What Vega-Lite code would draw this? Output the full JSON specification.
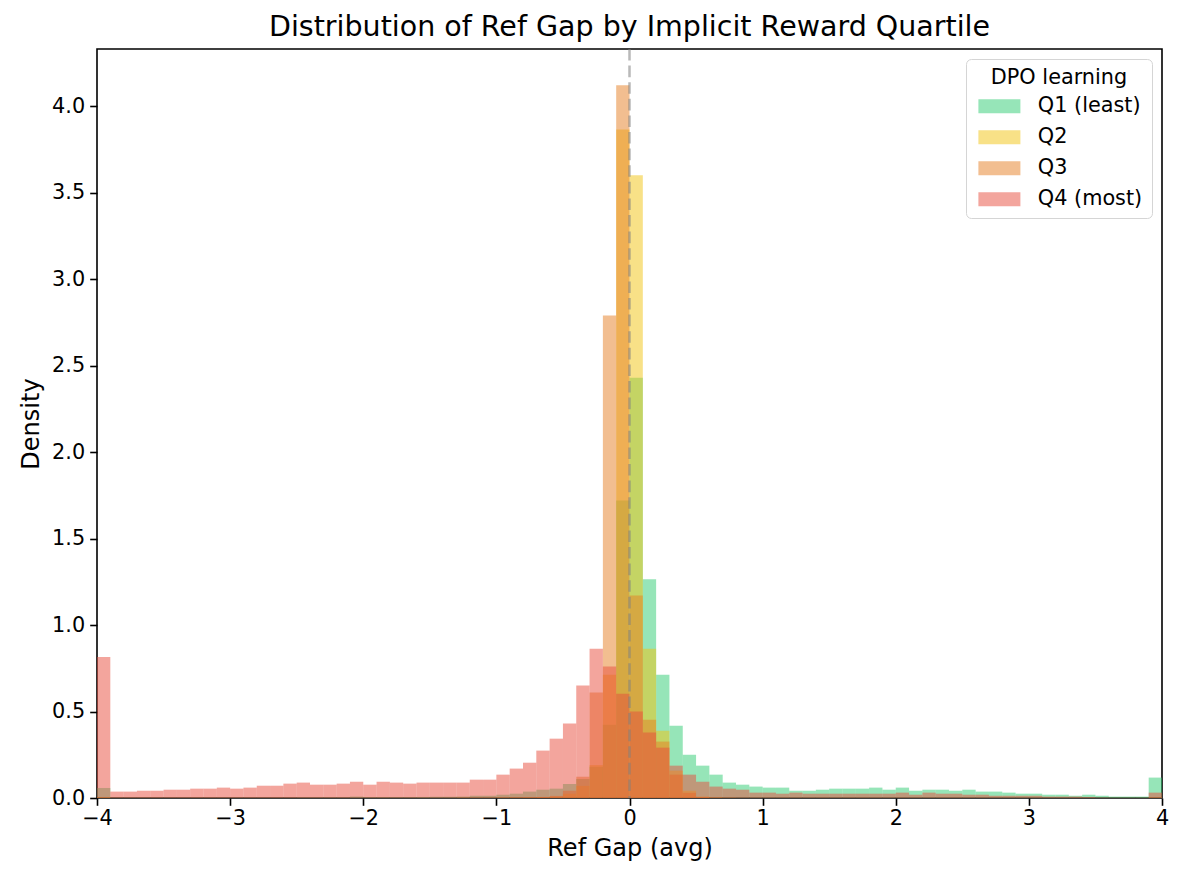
{
  "$schema": "https://vega.github.io/schema/vega-lite/v6.json",
  "autosize": "none",
  "width": 1065,
  "height": 749,
  "padding": {"left": 97, "top": 49, "right": 22, "bottom": 84},
  "background": "white",
  "title": {
    "text": "Distribution of Ref Gap by Implicit Reward Quartile",
    "font": "DejaVu Sans",
    "fontSize": 28.5,
    "fontWeight": "normal",
    "color": "black",
    "anchor": "middle",
    "offset": 6
  },
  "config": {
    "view": {"stroke": "black", "strokeWidth": 1.6},
    "axis": {
      "domain": false,
      "grid": false,
      "labelFlush": false,
      "labelFont": "DejaVu Sans",
      "labelFontSize": 20.8,
      "labelColor": "black",
      "tickColor": "black",
      "tickSize": 7.3,
      "tickWidth": 1.6,
      "labelPadding": 5,
      "titleFont": "DejaVu Sans",
      "titleFontSize": 24,
      "titleFontWeight": "normal",
      "titleColor": "black",
      "titlePadding": 8
    }
  },
  "layer": [
    {
      "data": {
        "values": [
          {"b0": -4.0, "b1": -3.9, "Q1": 0.058, "Q2": 0.004, "Q3": 0.003, "Q4": 0.815},
          {"b0": -3.9, "b1": -3.8, "Q1": 0.003, "Q2": 0, "Q3": 0, "Q4": 0.037},
          {"b0": -3.8, "b1": -3.7, "Q1": 0.003, "Q2": 0, "Q3": 0, "Q4": 0.037},
          {"b0": -3.7, "b1": -3.6, "Q1": 0.003, "Q2": 0, "Q3": 0, "Q4": 0.042},
          {"b0": -3.6, "b1": -3.5, "Q1": 0.003, "Q2": 0, "Q3": 0, "Q4": 0.042},
          {"b0": -3.5, "b1": -3.4, "Q1": 0.003, "Q2": 0, "Q3": 0, "Q4": 0.048},
          {"b0": -3.4, "b1": -3.3, "Q1": 0.003, "Q2": 0, "Q3": 0, "Q4": 0.048},
          {"b0": -3.3, "b1": -3.2, "Q1": 0.003, "Q2": 0, "Q3": 0, "Q4": 0.054},
          {"b0": -3.2, "b1": -3.1, "Q1": 0.003, "Q2": 0, "Q3": 0, "Q4": 0.054},
          {"b0": -3.1, "b1": -3.0, "Q1": 0.003, "Q2": 0, "Q3": 0, "Q4": 0.060},
          {"b0": -3.0, "b1": -2.9, "Q1": 0.003, "Q2": 0, "Q3": 0, "Q4": 0.054},
          {"b0": -2.9, "b1": -2.8, "Q1": 0.003, "Q2": 0, "Q3": 0, "Q4": 0.060},
          {"b0": -2.8, "b1": -2.7, "Q1": 0.003, "Q2": 0, "Q3": 0, "Q4": 0.071},
          {"b0": -2.7, "b1": -2.6, "Q1": 0.003, "Q2": 0, "Q3": 0, "Q4": 0.071},
          {"b0": -2.6, "b1": -2.5, "Q1": 0.003, "Q2": 0, "Q3": 0, "Q4": 0.083},
          {"b0": -2.5, "b1": -2.4, "Q1": 0.004, "Q2": 0, "Q3": 0, "Q4": 0.089},
          {"b0": -2.4, "b1": -2.3, "Q1": 0.004, "Q2": 0, "Q3": 0, "Q4": 0.077},
          {"b0": -2.3, "b1": -2.2, "Q1": 0.004, "Q2": 0, "Q3": 0, "Q4": 0.077},
          {"b0": -2.2, "b1": -2.1, "Q1": 0.004, "Q2": 0, "Q3": 0, "Q4": 0.083},
          {"b0": -2.1, "b1": -2.0, "Q1": 0.008, "Q2": 0, "Q3": 0, "Q4": 0.094},
          {"b0": -2.0, "b1": -1.9, "Q1": 0.005, "Q2": 0, "Q3": 0, "Q4": 0.077},
          {"b0": -1.9, "b1": -1.8, "Q1": 0.005, "Q2": 0, "Q3": 0, "Q4": 0.094},
          {"b0": -1.8, "b1": -1.7, "Q1": 0.005, "Q2": 0, "Q3": 0, "Q4": 0.089},
          {"b0": -1.7, "b1": -1.6, "Q1": 0.005, "Q2": 0, "Q3": 0, "Q4": 0.083},
          {"b0": -1.6, "b1": -1.5, "Q1": 0.006, "Q2": 0, "Q3": 0, "Q4": 0.089},
          {"b0": -1.5, "b1": -1.4, "Q1": 0.007, "Q2": 0, "Q3": 0, "Q4": 0.089},
          {"b0": -1.4, "b1": -1.3, "Q1": 0.007, "Q2": 0, "Q3": 0, "Q4": 0.089},
          {"b0": -1.3, "b1": -1.2, "Q1": 0.008, "Q2": 0.001, "Q3": 0.001, "Q4": 0.089},
          {"b0": -1.2, "b1": -1.1, "Q1": 0.013, "Q2": 0.001, "Q3": 0.001, "Q4": 0.106},
          {"b0": -1.1, "b1": -1.0, "Q1": 0.013, "Q2": 0.001, "Q3": 0.001, "Q4": 0.106},
          {"b0": -1.0, "b1": -0.9, "Q1": 0.019, "Q2": 0.002, "Q3": 0.002, "Q4": 0.135},
          {"b0": -0.9, "b1": -0.8, "Q1": 0.025, "Q2": 0.002, "Q3": 0.003, "Q4": 0.170},
          {"b0": -0.8, "b1": -0.7, "Q1": 0.037, "Q2": 0.003, "Q3": 0.004, "Q4": 0.204},
          {"b0": -0.7, "b1": -0.6, "Q1": 0.048, "Q2": 0.004, "Q3": 0.006, "Q4": 0.274},
          {"b0": -0.6, "b1": -0.5, "Q1": 0.054, "Q2": 0.008, "Q3": 0.012, "Q4": 0.343},
          {"b0": -0.5, "b1": -0.4, "Q1": 0.081, "Q2": 0.025, "Q3": 0.042, "Q4": 0.43},
          {"b0": -0.4, "b1": -0.3, "Q1": 0.11, "Q2": 0.07, "Q3": 0.123, "Q4": 0.65},
          {"b0": -0.3, "b1": -0.2, "Q1": 0.18, "Q2": 0.19, "Q3": 0.61, "Q4": 0.863},
          {"b0": -0.2, "b1": -0.1, "Q1": 0.424, "Q2": 0.713, "Q3": 2.79, "Q4": 0.76},
          {"b0": -0.1, "b1": 0.0, "Q1": 1.72, "Q2": 3.865, "Q3": 4.12, "Q4": 0.603},
          {"b0": 0.0, "b1": 0.1, "Q1": 2.43, "Q2": 3.6, "Q3": 1.17, "Q4": 0.5},
          {"b0": 0.1, "b1": 0.2, "Q1": 1.265, "Q2": 0.863, "Q3": 0.453, "Q4": 0.378},
          {"b0": 0.2, "b1": 0.3, "Q1": 0.713, "Q2": 0.389, "Q3": 0.326, "Q4": 0.291},
          {"b0": 0.3, "b1": 0.4, "Q1": 0.418, "Q2": 0.158, "Q3": 0.135, "Q4": 0.187},
          {"b0": 0.4, "b1": 0.5, "Q1": 0.25, "Q2": 0.042, "Q3": 0.03, "Q4": 0.135},
          {"b0": 0.5, "b1": 0.6, "Q1": 0.187, "Q2": 0.008, "Q3": 0.006, "Q4": 0.094},
          {"b0": 0.6, "b1": 0.7, "Q1": 0.135, "Q2": 0.003, "Q3": 0.002, "Q4": 0.066},
          {"b0": 0.7, "b1": 0.8, "Q1": 0.089, "Q2": 0.001, "Q3": 0.001, "Q4": 0.054},
          {"b0": 0.8, "b1": 0.9, "Q1": 0.077, "Q2": 0, "Q3": 0, "Q4": 0.048},
          {"b0": 0.9, "b1": 1.0, "Q1": 0.066, "Q2": 0, "Q3": 0, "Q4": 0.031},
          {"b0": 1.0, "b1": 1.1, "Q1": 0.060, "Q2": 0, "Q3": 0, "Q4": 0.031},
          {"b0": 1.1, "b1": 1.2, "Q1": 0.060, "Q2": 0, "Q3": 0, "Q4": 0.025},
          {"b0": 1.2, "b1": 1.3, "Q1": 0.042, "Q2": 0, "Q3": 0, "Q4": 0.031},
          {"b0": 1.3, "b1": 1.4, "Q1": 0.042, "Q2": 0, "Q3": 0, "Q4": 0.025},
          {"b0": 1.4, "b1": 1.5, "Q1": 0.048, "Q2": 0, "Q3": 0, "Q4": 0.025},
          {"b0": 1.5, "b1": 1.6, "Q1": 0.054, "Q2": 0, "Q3": 0, "Q4": 0.025},
          {"b0": 1.6, "b1": 1.7, "Q1": 0.054, "Q2": 0, "Q3": 0, "Q4": 0.025},
          {"b0": 1.7, "b1": 1.8, "Q1": 0.054, "Q2": 0, "Q3": 0, "Q4": 0.025},
          {"b0": 1.8, "b1": 1.9, "Q1": 0.060, "Q2": 0, "Q3": 0, "Q4": 0.025},
          {"b0": 1.9, "b1": 2.0, "Q1": 0.048, "Q2": 0, "Q3": 0, "Q4": 0.025},
          {"b0": 2.0, "b1": 2.1, "Q1": 0.060, "Q2": 0, "Q3": 0, "Q4": 0.031},
          {"b0": 2.1, "b1": 2.2, "Q1": 0.042, "Q2": 0, "Q3": 0, "Q4": 0.019},
          {"b0": 2.2, "b1": 2.3, "Q1": 0.048, "Q2": 0, "Q3": 0, "Q4": 0.031},
          {"b0": 2.3, "b1": 2.4, "Q1": 0.048, "Q2": 0, "Q3": 0, "Q4": 0.025},
          {"b0": 2.4, "b1": 2.5, "Q1": 0.042, "Q2": 0, "Q3": 0, "Q4": 0.025},
          {"b0": 2.5, "b1": 2.6, "Q1": 0.048, "Q2": 0, "Q3": 0, "Q4": 0.019},
          {"b0": 2.6, "b1": 2.7, "Q1": 0.037, "Q2": 0, "Q3": 0, "Q4": 0.019},
          {"b0": 2.7, "b1": 2.8, "Q1": 0.037, "Q2": 0, "Q3": 0, "Q4": 0.013},
          {"b0": 2.8, "b1": 2.9, "Q1": 0.031, "Q2": 0, "Q3": 0, "Q4": 0.013},
          {"b0": 2.9, "b1": 3.0, "Q1": 0.025, "Q2": 0, "Q3": 0, "Q4": 0.013},
          {"b0": 3.0, "b1": 3.1, "Q1": 0.025, "Q2": 0, "Q3": 0, "Q4": 0.013},
          {"b0": 3.1, "b1": 3.2, "Q1": 0.019, "Q2": 0, "Q3": 0, "Q4": 0.008},
          {"b0": 3.2, "b1": 3.3, "Q1": 0.019, "Q2": 0, "Q3": 0, "Q4": 0.008},
          {"b0": 3.3, "b1": 3.4, "Q1": 0.013, "Q2": 0, "Q3": 0, "Q4": 0.008},
          {"b0": 3.4, "b1": 3.5, "Q1": 0.019, "Q2": 0, "Q3": 0, "Q4": 0.006},
          {"b0": 3.5, "b1": 3.6, "Q1": 0.013, "Q2": 0, "Q3": 0, "Q4": 0.003},
          {"b0": 3.6, "b1": 3.7, "Q1": 0.008, "Q2": 0, "Q3": 0, "Q4": 0.002},
          {"b0": 3.7, "b1": 3.8, "Q1": 0.008, "Q2": 0, "Q3": 0, "Q4": 0.002},
          {"b0": 3.8, "b1": 3.9, "Q1": 0.008, "Q2": 0, "Q3": 0, "Q4": 0.002},
          {"b0": 3.9, "b1": 4.0, "Q1": 0.118, "Q2": 0.002, "Q3": 0.002, "Q4": 0.031}
        ]
      },
      "transform": [
        {"fold": ["Q1", "Q2", "Q3", "Q4"], "as": ["quartile", "density"]}
      ],
      "mark": {"type": "rect", "opacity": 0.5, "strokeWidth": 0},
      "encoding": {
        "x": {
          "field": "b0",
          "type": "quantitative",
          "title": "Ref Gap (avg)",
          "scale": {"domain": [-4, 4], "nice": false, "zero": false},
          "axis": {"values": [-4, -3, -2, -1, 0, 1, 2, 3, 4], "format": "d", "labelPadding": 3}
        },
        "x2": {"field": "b1"},
        "y": {
          "field": "density",
          "type": "quantitative",
          "title": "Density",
          "scale": {"domain": [0, 4.33], "nice": false},
          "axis": {"values": [0, 0.5, 1, 1.5, 2, 2.5, 3, 3.5, 4], "format": ".1f"}
        },
        "y2": {"datum": 0},
        "order": {"field": "quartile"},
        "color": {
          "field": "quartile",
          "type": "nominal",
          "scale": {
            "domain": ["Q1", "Q2", "Q3", "Q4"],
            "range": ["#2ecc71", "#f1c40f", "#e67e22", "#e74c3c"]
          },
          "legend": {
            "title": "DPO learning",
            "orient": "top-right",
            "offset": 10,
            "labelExpr": "datum.label == 'Q1' ? 'Q1 (least)' : datum.label == 'Q4' ? 'Q4 (most)' : datum.label",
            "titleFont": "DejaVu Sans",
            "titleFontSize": 20.8,
            "titleFontWeight": "normal",
            "titleColor": "black",
            "titleAnchor": "middle",
            "titlePadding": 7,
            "labelFont": "DejaVu Sans",
            "labelFontSize": 20.8,
            "labelColor": "black",
            "labelOffset": 42,
            "symbolType": "M-1,-1H5V1H-1Z",
            "symbolSize": 196,
            "symbolOpacity": 0.5,
            "symbolStrokeWidth": 0,
            "rowPadding": 9,
            "padding": 9,
            "fillColor": "white",
            "strokeColor": "#d5d5d5",
            "cornerRadius": 5
          }
        }
      }
    },
    {
      "data": {"values": [{"x0": 0}]},
      "mark": {"type": "rule", "color": "gray", "opacity": 0.55, "strokeWidth": 2.5, "strokeDash": [11.6, 5]},
      "encoding": {
        "x": {"field": "x0", "type": "quantitative", "title": "Ref Gap (avg)"}
      }
    }
  ]
}
